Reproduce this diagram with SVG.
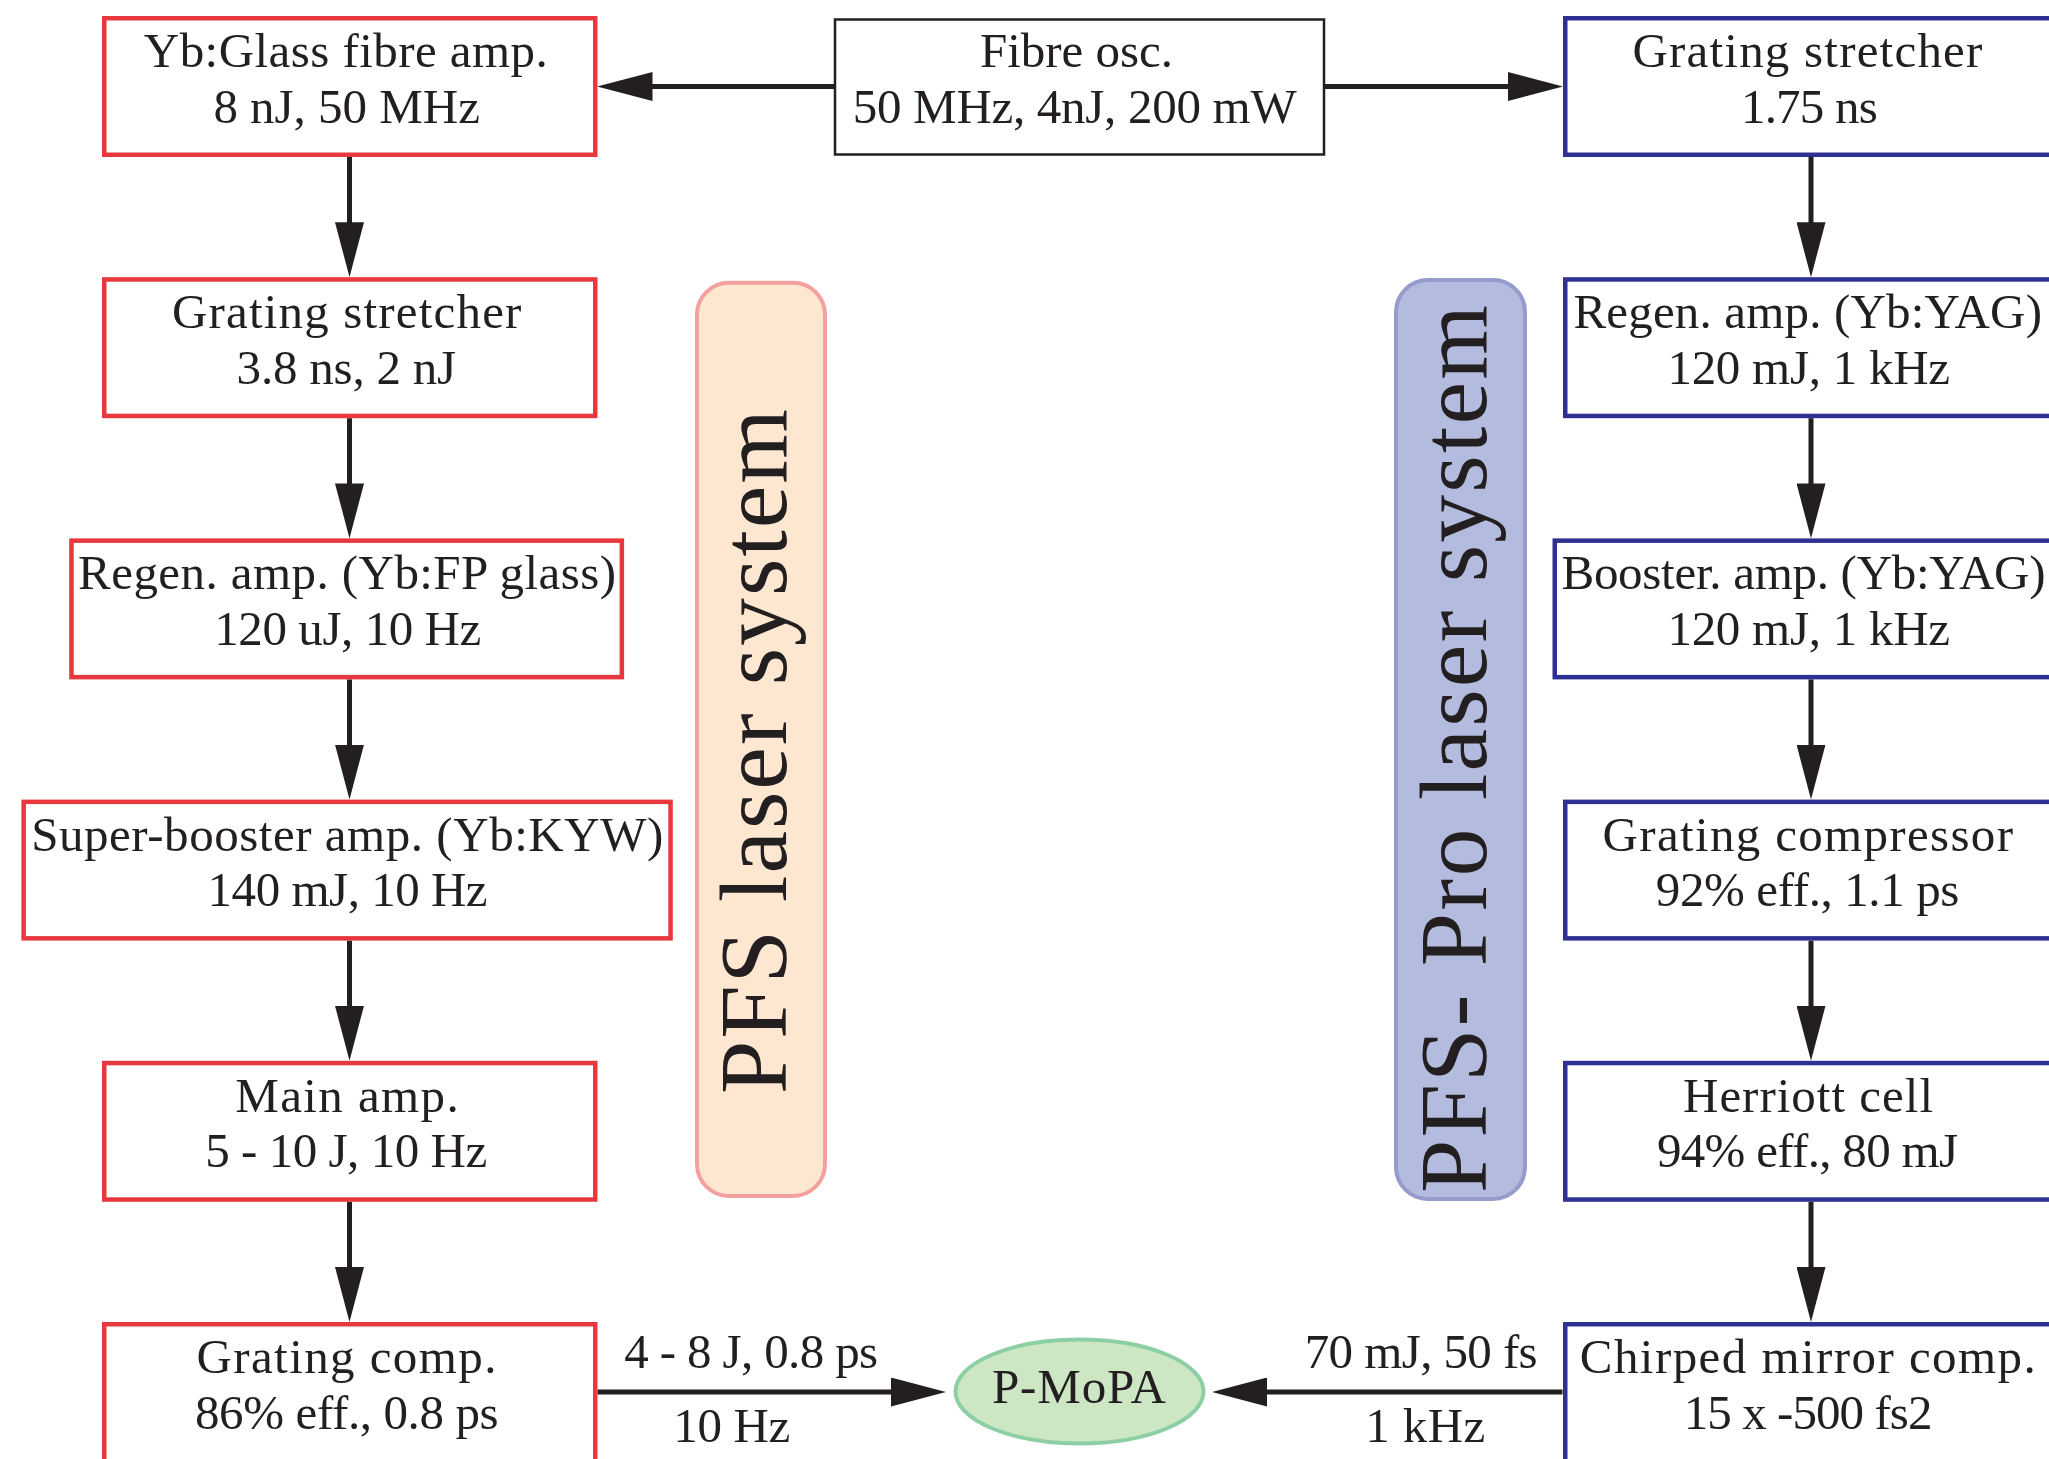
<svg xmlns="http://www.w3.org/2000/svg" width="2049" height="1459" viewBox="0 0 2049 1459">
<defs>
<style>
.t{font-family:"Liberation Serif","Times New Roman",serif;font-size:49px;fill:#231f20;}
.big{font-family:"Liberation Serif","Times New Roman",serif;font-size:96px;fill:#231f20;}
.red{fill:#ffffff;stroke:#e8383d;stroke-width:4.5;}
.blue{fill:#ffffff;stroke:#2e3192;stroke-width:4.5;}
.osc{fill:#ffffff;stroke:#231f20;stroke-width:2.5;}
.conn{stroke:#231f20;stroke-width:5;fill:none;marker-end:url(#ah);}
</style>
<marker id="ah" markerUnits="userSpaceOnUse" viewBox="0 0 55 29" markerWidth="55" markerHeight="29" refX="15" refY="14.5" orient="auto">
<path d="M0,0 L55,14.5 L0,29 Z" fill="#231f20"/>
</marker>
</defs>
<rect width="2049" height="1459" fill="#ffffff"/>

<g id="pfs-label">
<rect x="697" y="282.7" width="128" height="913.3" rx="32" fill="#fde7d1" stroke="#f4a09f" stroke-width="4"/>
<text class="big" transform="translate(786,1094) rotate(-90)" textLength="685" lengthAdjust="spacing">PFS laser system</text>
</g>
<g id="pfspro-label">
<rect x="1396" y="280" width="129" height="919" rx="32" fill="#b3bcdf" stroke="#979bcc" stroke-width="4"/>
<text class="big" transform="translate(1486,1193) rotate(-90)" textLength="888" lengthAdjust="spacing">PFS- Pro laser system</text>
</g>

<g id="connectors">
<line class="conn" x1="834" y1="86.5" x2="637.5" y2="86.5"/>
<line class="conn" x1="1325" y1="86.5" x2="1523" y2="86.5"/>
<line class="conn" x1="349.5" y1="157" x2="349.5" y2="237.2"/>
<line class="conn" x1="349.5" y1="418.2" x2="349.5" y2="498.4"/>
<line class="conn" x1="349.5" y1="679.4" x2="349.5" y2="759.6"/>
<line class="conn" x1="349.5" y1="940.6" x2="349.5" y2="1020.8"/>
<line class="conn" x1="349.5" y1="1201.8" x2="349.5" y2="1282"/>
<line class="conn" x1="1811" y1="157" x2="1811" y2="237.2"/>
<line class="conn" x1="1811" y1="418.2" x2="1811" y2="498.4"/>
<line class="conn" x1="1811" y1="679.4" x2="1811" y2="759.6"/>
<line class="conn" x1="1811" y1="940.6" x2="1811" y2="1020.8"/>
<line class="conn" x1="1811" y1="1201.8" x2="1811" y2="1282"/>
<line class="conn" x1="597.5" y1="1392" x2="906" y2="1392"/>
<line class="conn" x1="1562.5" y1="1392" x2="1252" y2="1392"/>
<text class="t" x="624.2" y="1368" textLength="254">4 - 8 J, 0.8 ps</text>
<text class="t" x="673.3" y="1442" textLength="117">10 Hz</text>
<text class="t" x="1304.7" y="1368" textLength="233">70 mJ, 50 fs</text>
<text class="t" x="1365.3" y="1442" textLength="120">1 kHz</text>
</g>

<g id="fibre-osc">
<rect class="osc" x="835" y="19.5" width="489" height="135"/>
<text class="t" x="980" y="67" textLength="193">Fibre osc.</text>
<text class="t" x="852.7" y="123" textLength="444">50 MHz, 4nJ, 200 mW</text>
</g>

<g id="yb-glass-fibre-amp">
<rect class="red" x="104.25" y="18.25" width="491" height="136.5"/>
<text class="t" x="143.8" y="67" textLength="404">Yb:Glass fibre amp.</text>
<text class="t" x="213.4" y="122.5" textLength="266.5">8 nJ, 50 MHz</text>
</g>
<g id="grating-stretcher-left">
<rect class="red" x="104.25" y="279.45" width="491" height="136.5"/>
<text class="t" x="171.9" y="328.2" textLength="349.5">Grating stretcher</text>
<text class="t" x="236.6" y="383.7" textLength="219.6">3.8 ns, 2 nJ</text>
</g>
<g id="regen-amp-left">
<rect class="red" x="71.45" y="540.65" width="550.4" height="136.5"/>
<text class="t" x="78.1" y="589.4" textLength="538">Regen. amp. (Yb:FP glass)</text>
<text class="t" x="214.3" y="644.9" textLength="267">120 uJ, 10 Hz</text>
</g>
<g id="super-booster-amp">
<rect class="red" x="23.65" y="801.85" width="646.9" height="136.5"/>
<text class="t" x="31.25" y="850.6" textLength="632">Super-booster amp. (Yb:KYW)</text>
<text class="t" x="207.6" y="906.1" textLength="280">140 mJ, 10 Hz</text>
</g>
<g id="main-amp">
<rect class="red" x="104.25" y="1063.05" width="491" height="136.5"/>
<text class="t" x="235.2" y="1111.8" textLength="223.5">Main amp.</text>
<text class="t" x="205.2" y="1167.3" textLength="282">5 - 10 J, 10 Hz</text>
</g>
<g id="grating-comp">
<rect class="red" x="104.25" y="1324.25" width="491" height="140"/>
<text class="t" x="196.4" y="1373" textLength="300">Grating comp.</text>
<text class="t" x="195" y="1428.5" textLength="303.6">86% eff., 0.8 ps</text>
</g>

<g id="grating-stretcher-right">
<rect class="blue" x="1565.25" y="18.25" width="520" height="136.5"/>
<text class="t" x="1632.4" y="67" textLength="350">Grating stretcher</text>
<text class="t" x="1740.9" y="122.5" textLength="137">1.75 ns</text>
</g>
<g id="regen-amp-right">
<rect class="blue" x="1565.25" y="279.45" width="520" height="136.5"/>
<text class="t" x="1573.5" y="328.2" textLength="468.5">Regen. amp. (Yb:YAG)</text>
<text class="t" x="1667.4" y="383.7" textLength="282.6">120 mJ, 1 kHz</text>
</g>
<g id="booster-amp">
<rect class="blue" x="1554.75" y="540.65" width="530" height="136.5"/>
<text class="t" x="1561.5" y="589.4" textLength="484">Booster. amp. (Yb:YAG)</text>
<text class="t" x="1667.4" y="644.9" textLength="282.6">120 mJ, 1 kHz</text>
</g>
<g id="grating-compressor">
<rect class="blue" x="1565.25" y="801.85" width="520" height="136.5"/>
<text class="t" x="1602.6" y="850.6" textLength="410.4">Grating compressor</text>
<text class="t" x="1655.8" y="906.1" textLength="303.6">92% eff., 1.1 ps</text>
</g>
<g id="herriott-cell">
<rect class="blue" x="1565.25" y="1063.05" width="520" height="136.5"/>
<text class="t" x="1683" y="1111.8" textLength="250">Herriott cell</text>
<text class="t" x="1657" y="1167.3" textLength="301">94% eff., 80 mJ</text>
</g>
<g id="chirped-mirror-comp">
<rect class="blue" x="1565.25" y="1324.25" width="520" height="140"/>
<text class="t" x="1579.8" y="1373" textLength="456">Chirped mirror comp.</text>
<text class="t" x="1683.8" y="1428.5" textLength="248.6">15 x -500 fs2</text>
</g>

<g id="p-mopa">
<ellipse cx="1079.5" cy="1391.5" rx="124" ry="52" fill="#cde7c5" stroke="#8ccfa5" stroke-width="4"/>
<text class="t" x="992" y="1402.7" textLength="174">P-MoPA</text>
</g>
</svg>
